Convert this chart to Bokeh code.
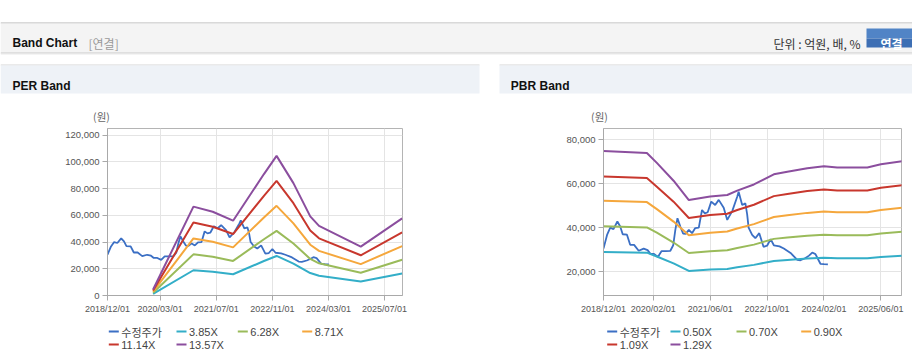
from bokeh.plotting import figure
from bokeh.models import Range1d, FixedTicker, NumeralTickFormatter, Label
from bokeh.layouts import column, row
from bokeh.embed import file_html
from bokeh.resources import INLINE
from bokeh.core.properties import value

# ---------------- data (x = months since 2018/12/01) ----------------
price_name = "수정주가"
price_month = [0, 1, 1.9, 2.8, 3.9, 4.7, 5.4, 6.6, 7.5, 8.6, 9.9, 11.3, 12.4, 13.2, 14.2,
               15.3, 16.3, 17.5, 18.8, 19.6, 20.2, 20.8, 21.6, 22.4, 23.1, 24, 24.9, 25.8,
               26.8, 27.7, 28.5, 29.3, 30.3, 31.4, 32.4, 33.8, 34.8, 36.2, 37.6, 38, 39,
               39.9, 40.4, 40.8, 41.8, 42.7, 43.8, 45, 46, 47, 47.9, 49.5, 50.7, 52.6,
               54.5, 55.4, 56.8, 57.8, 58.7, 59.6, 61, 62, 63.1]
price_value = [30500, 36700, 40000, 39300, 42800, 40500, 37000, 36800, 32200, 32200, 29500,
               30500, 29800, 28100, 28100, 26700, 29300, 29300, 29500, 32000, 39000, 44300,
               40500, 37300, 37200, 39000, 37500, 39800, 40000, 48000, 46500, 47000, 51800,
               50300, 52600, 49000, 43500, 47500, 54000, 56300, 50300, 51000, 46000, 40000,
               36700, 35200, 37500, 31300, 31800, 34800, 32000, 31500, 30500, 28500, 25400,
               25200, 26200, 27300, 28700, 28000, 23600, 23400, 23300]
unit_label = "(원)"

per_names = ["3.85X", "6.28X", "8.71X", "11.14X", "13.57X"]
per_month = [13, 24.5, 30, 35.8, 44.6, 48.2, 53, 57.8, 60.3, 72.2, 84]
per_385 = [1300, 18900, 17800, 15900, 25800, 29600, 23900, 16800, 14800, 10400, 16400]
per_628 = [2100, 30800, 29000, 25900, 42100, 48400, 38900, 27400, 24100, 17000, 26700]
per_871 = [2900, 42700, 40200, 36000, 58400, 67100, 54000, 38000, 33400, 23500, 37000]
per_1114 = [3700, 54600, 51500, 46000, 74600, 85800, 69100, 48600, 42800, 30100, 47300]
per_1357 = [4500, 66500, 62700, 56000, 90900, 104500, 84100, 59200, 52100, 36600, 57700]
per_x_labels = ["2018/12/01", "2020/03/01", "2021/07/01", "2022/11/01", "2024/03/01", "2025/07/01"]
per_y_ticks = [0, 20000, 40000, 60000, 80000, 100000, 120000]

pbr_names = ["0.50X", "0.70X", "0.90X", "1.09X", "1.29X"]
pbr_month = [0, 12.2, 15, 19.7, 24, 30, 34.8, 37.6, 42.3, 47.9, 51.7, 57.3, 62, 65.7, 74.2, 78, 84]
pbr_050 = [29000, 28650, 26900, 23750, 20350, 20950, 21250, 22000, 23100, 24900, 25350,
           25950, 26300, 26100, 26100, 26650, 27200]
pbr_070 = [40600, 40100, 37700, 33250, 28500, 29300, 29750, 30800, 32300, 34900, 35500,
           36300, 36800, 36500, 36500, 37300, 38100]
pbr_090 = [52200, 51600, 48400, 42750, 36600, 37700, 38250, 39600, 41600, 44800, 45600,
           46700, 47300, 47000, 47000, 48000, 49000]
pbr_109 = [63200, 62500, 58600, 51800, 44400, 45700, 46300, 48000, 50400, 54300, 55300,
           56600, 57300, 56900, 56900, 58100, 59300]
pbr_129 = [74800, 73900, 69400, 61300, 52500, 54100, 54800, 56800, 59600, 64200, 65400,
           67000, 67900, 67300, 67300, 68800, 70200]
pbr_x_labels = ["2018/12/01", "2020/02/01", "2021/06/01", "2022/10/01", "2024/02/01", "2025/06/01"]
pbr_y_ticks = [20000, 40000, 60000, 80000]

price_color = "#3b6fc4"
band_colors = ["#33aec8", "#9abb5a", "#f5a73c", "#c8372d", "#8b4e9e"]

KR = "Noto Sans CJK KR"
LAT = "Liberation Sans"


def month_of(label):
    y, m, _ = (int(s) for s in label.split("/"))
    return (y - 2018) * 12 + (m - 12)


def pixel_fig(w, h, x0, y0, left=0, right=0):
    # a decoration canvas whose data coordinates are page pixels
    p = figure(width=w, height=h, x_range=Range1d(x0 + left, x0 + w - right),
               y_range=Range1d(y0 + h, y0), title=None,
               output_backend="svg", toolbar_location=None,
               x_axis_location=None, y_axis_location=None, min_border=0,
               min_border_left=left, min_border_right=right)
    for g in p.grid:
        g.visible = False
    p.outline_line_color = None
    p.background_fill_color = "white"
    p.border_fill_color = "white"
    return p


def box(p, l, r, t, b, color):
    p.quad(left=[l], right=[r], top=[t], bottom=[b], fill_color=color, line_color=None)


def txt(p, x, y, s, font, size, color, bold=False, align="left", baseline="alphabetic"):
    p.text(x=[x], y=[y], text=[s], text_font=value(font), text_font_size=size,
           text_font_style="bold" if bold else "normal", text_color=color,
           text_align=align, text_baseline=baseline)


# ---------------- header (page rows 0..127) ----------------
hdr = pixel_fig(912, 127, 0, 0)
box(hdr, 0, 912, 22, 23, "#b3b3b3")
box(hdr, 0, 912, 23, 52, "#f4f4f4")
box(hdr, 0, 912, 52, 53, "#c6c6c6")
box(hdr, 0, 912, 53, 54, "#e9e9e9")
for l, r in [(0, 479), (499, 912)]:
    box(hdr, l, r, 64, 65, "#d6d6d6")
    box(hdr, l, r, 65, 93, "#eef2f7")
box(hdr, 866, 912, 28, 38, "#5184c6")
box(hdr, 866, 912, 38, 47, "#3d6fb4")
txt(hdr, 12, 42.7, "Band Chart", LAT, "12px", "#111111", bold=True)
txt(hdr, 88, 42.7, "[연결]", KR, "12px", "#9a9a9a")
txt(hdr, 860, 42.5, "단위 : 억원, 배, %", KR, "12px", "#333333", align="right")
txt(hdr, 891, 42.5, "연결", KR, "12px", "#ffffff", bold=True, align="center")
txt(hdr, 12, 85, "PER Band", LAT, "12px", "#111111", bold=True)
txt(hdr, 510.3, 85, "PBR Band", LAT, "12px", "#111111", bold=True)
txt(hdr, 101, 116, unit_label, KR, "10.5px", "#666666", align="center", baseline="middle")
hdr.add_layout(Label(x=599, y=116, text=unit_label, text_align="center",
                     text_baseline="middle", text_font=KR, text_font_size="10.5px",
                     text_color="#666666"))


# ---------------- charts (page rows 127..318) ----------------
def chart(width, left, right, x_end, y_lo, y_hi, y_ticks, x_labels, band_month, bands):
    p = figure(width=width, height=191, x_range=Range1d(0, x_end), y_range=Range1d(y_lo, y_hi),
               title=None, output_backend="svg", toolbar_location=None,
               min_border_left=left, min_border_right=right, min_border_top=1,
               min_border_bottom=23)
    p.background_fill_color = "white"
    p.border_fill_color = "white"
    p.outline_line_color = "#b4b4b4"
    ticks = [month_of(t) for t in x_labels]
    p.xaxis.ticker = FixedTicker(ticks=ticks)
    p.xaxis.major_label_overrides = dict(zip(ticks, x_labels))
    p.yaxis.ticker = FixedTicker(ticks=y_ticks)
    p.yaxis.formatter = NumeralTickFormatter(format="0,0")
    p.axis.axis_line_color = "#a9a9a9"
    p.axis.major_tick_line_color = "#a9a9a9"
    p.axis.major_tick_in = 0
    p.axis.major_tick_out = 5
    p.axis.minor_tick_line_color = None
    p.axis.major_label_text_font = LAT
    p.axis.major_label_text_color = "#555555"
    p.xaxis.major_label_text_font_size = "9px"
    p.yaxis.major_label_text_font_size = "9.5px"
    p.axis.major_label_standoff = 3
    p.grid.grid_line_color = "#e4e4e4"
    p.line(price_month, price_value, line_color=price_color, line_width=1.8)
    for vals, c in zip(bands, band_colors):
        p.line(band_month, vals, line_color=c, line_width=2)
    return p


per = chart(489, 107, 87, 84.1, 0, 125000, per_y_ticks, per_x_labels, per_month,
            [per_385, per_628, per_871, per_1114, per_1357])
pbr = chart(423, 114, 11, 83.8, 9200, 85000, pbr_y_ticks, pbr_x_labels, pbr_month,
            [pbr_050, pbr_070, pbr_090, pbr_109, pbr_129])


def legend_fig(width, x0, left, right, cols, names):
    p = pixel_fig(width, 46, x0, 318, left, right)
    rows = [331, 344]
    items = [(price_name, price_color)] + list(zip(names, band_colors))
    for i, (name, color) in enumerate(items):
        lx = cols[i % 4]
        y = rows[i // 4]
        p.segment(x0=[lx], y0=[y], x1=[lx + 10], y1=[y], line_color=color, line_width=2)
        font = KR if name == price_name else LAT
        txt(p, lx + 12.5, y, name, font, "11px", "#444444", baseline="middle")
    return p


per_leg = legend_fig(489, 0, 107, 87, [108.3, 176, 237.3, 301.7], per_names)
pbr_leg = legend_fig(423, 489, 114, 11, [606.7, 670, 736, 800.7], pbr_names)

layout = column(hdr, row(column(per, per_leg), column(pbr, pbr_leg)))
open("out.html", "w").write(file_html(layout, INLINE))
